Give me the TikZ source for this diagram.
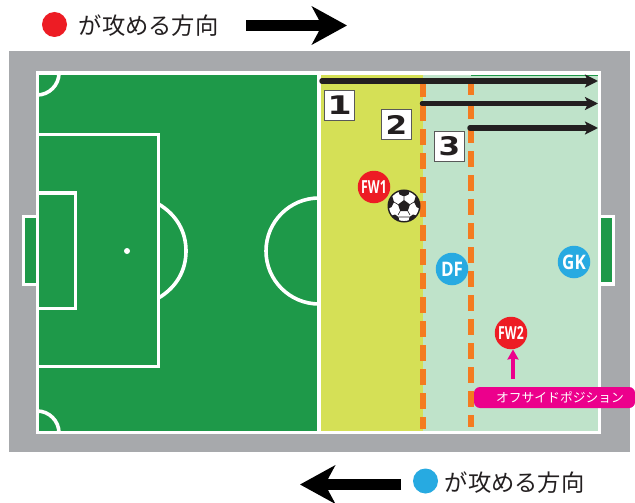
\documentclass[tikz,border=0pt]{standalone}
\usepackage{fontspec}
\newfontfamily\cjk{Noto Sans CJK JP}
\newfontfamily\cjkm{Noto Sans CJK JP Medium}
\newfontfamily\cond{Open Sans}
\newfontfamily\digit{DejaVu Sans}
\usetikzlibrary{arrows.meta}
\definecolor{pgray}{HTML}{A7A9AC}
\definecolor{pgreen}{HTML}{1E9949}
\definecolor{pyellow}{HTML}{D5E056}
\definecolor{plight}{HTML}{BFE3CA}
\definecolor{pred}{HTML}{ED1C24}
\definecolor{pblue}{HTML}{27AAE1}
\definecolor{ppink}{HTML}{EC008C}
\definecolor{porange}{HTML}{F47B20}
\definecolor{pink2}{HTML}{231F20}
\tikzset{
  pitchline/.style={draw=white,line width=3.6pt},
  offside/.style={draw=porange,line width=6pt,dash pattern=on 16pt off 8pt},
  runline/.style={draw=pink2,line width=#1,line cap=round,-{Stealth[length=13pt,width=13pt,inset=3pt]}},
  bigarrow/.style={draw=black,line width=11pt,-{Stealth[length=35pt,width=38pt,inset=10pt]}},
  playerbase/.style={circle,minimum size=32.5pt,inner sep=0pt,text=white},
  playerred/.style={playerbase,fill=pred},
  playerblue/.style={playerbase,fill=pblue},
  numbox/.style={draw=black!65,fill=white,line width=0.8pt,minimum size=30pt,inner sep=0pt,text=pink2},
  legendtext/.style={inner sep=0pt,anchor=west,text=pink2,font=\cjk\fontsize{23.3}{24}\selectfont},
  dot/.style={circle,minimum size=25pt,inner sep=0pt},
}
\begin{document}
\begin{tikzpicture}[x=1pt,y=-1pt]
\useasboundingbox (0,0) rectangle (635,503);
\fill[white] (0,0) rectangle (635,503);
% surround and pitch
\fill[pgray] (9,51) rectangle (630,452);
\fill[white] (36,71) rectangle (601,434);
\fill[pgreen] (39,75) rectangle (317,431);
\fill[pyellow] (321,75) rectangle (423,431);
\fill[plight] (423,75) rectangle (598,431);
\fill[pgreen] (471,75) rectangle (598,76);
% goals
\fill[white] (22,215) rectangle (36,286);
\fill[pgreen] (25,218) rectangle (36,283);
\fill[white] (601,215) rectangle (615,286);
\fill[pgreen] (601,218) rectangle (612,282);
% markings
\begin{scope}
\clip (39,75) rectangle (317,431);
\draw[pitchline] (38,134.5) -- (158.5,134.5) -- (158.5,366.5) -- (38,366.5);
\draw[pitchline] (38,193) -- (75.5,193) -- (75.5,308.5) -- (38,308.5);
\draw[pitchline] (158.5,204) .. controls (177,215) and (186,232) .. (186,251) .. controls (186,270) and (177,287) .. (158.5,298);
\draw[pitchline] (319,251) circle[radius=53];
\draw[pitchline] (37,73) circle[radius=22];
\draw[pitchline] (37,433) circle[radius=22];
\end{scope}
\fill[white] (127,251) circle[radius=3];
% offside lines
\coordinate (d1a) at (423,81); \coordinate (d1b) at (423,429);
\coordinate (d2a) at (471,79); \coordinate (d2b) at (471,427);
\draw[offside] (d1a) -- (d1b);
\draw[offside] (d2a) -- (d2b);
% run lines
\coordinate (r1a) at (322,81);  \coordinate (r1b) at (598,81);
\coordinate (r2a) at (422,103.5); \coordinate (r2b) at (598,103.5);
\coordinate (r3a) at (470,128); \coordinate (r3b) at (598,128);
\draw[runline=5.5pt] (r1a) -- (r1b);
\draw[runline=4.5pt] (r2a) -- (r2b);
\draw[runline=5.5pt] (r3a) -- (r3b);
% number boxes
\node[numbox] (n1) at (339.5,105) {\digit\bfseries\fontsize{27}{27}\selectfont\scalebox{1.3}[0.95]{1}};
\node[numbox] (n2) at (396.5,124.5) {\digit\bfseries\fontsize{27}{27}\selectfont\scalebox{1.15}[0.95]{2}};
\node[numbox] (n3) at (449.5,146) {\digit\bfseries\fontsize{27}{27}\selectfont\scalebox{1.15}[0.95]{3}};
% players
\node[playerred] (fw1) at (374,187) {\cond\bfseries\fontsize{18}{18}\selectfont\scalebox{0.68}[1]{FW1}};
\node[playerblue] (df) at (452,269) {\cond\bfseries\fontsize{20}{20}\selectfont\scalebox{0.85}[1]{DF}};
\node[playerblue] (gk) at (574,262) {\cond\bfseries\fontsize{20}{20}\selectfont\scalebox{0.85}[1]{GK}};
\node[playerred] (fw2) at (511,333) {\cond\bfseries\fontsize{18}{18}\selectfont\scalebox{0.68}[1]{FW2}};
% ball
\begin{scope}[shift={(404,206)}]
\fill[white,draw=pink2,line width=1.4pt] (0,0) circle[radius=15.8];
\clip (0,0) circle[radius=15.5];
\fill[pink2] (0,-6) -- (6,-1.5) -- (3.8,5) -- (-3.8,5) -- (-6,-1.5) -- cycle;
\fill[pink2] (-6,-16) -- (6,-16) -- (4.5,-11.5) -- (0,-9.5) -- (-4.5,-11.5) -- cycle;
\fill[pink2] (16,-9) -- (16,3) -- (12.5,1) -- (10,-4) -- (11.5,-9) -- cycle;
\fill[pink2] (-16,-9) -- (-16,3) -- (-12.5,1) -- (-10,-4) -- (-11.5,-9) -- cycle;
\fill[pink2] (4.5,16) -- (5.5,11) -- (9,8.5) -- (13.5,10) -- (10,16) -- cycle;
\fill[pink2] (-4.5,16) -- (-5.5,11) -- (-9,8.5) -- (-13.5,10) -- (-10,16) -- cycle;
\draw[pink2,line width=0.6pt] (0,-6) -- (0,-9.5) (6,-1.5) -- (10,-4) (-6,-1.5) -- (-10,-4) (3.8,5) -- (6,9) (-3.8,5) -- (-6,9) (5.5,11) -- (-5.5,11);
\end{scope}
% offside label
\node[fill=ppink,rounded corners=6pt,minimum width=161pt,minimum height=21pt,inner sep=0pt] (off) at (554.5,397.5) {};
\node[inner sep=0pt,text=white,font=\cjk\fontsize{12.8}{13}\selectfont] (offt) at (560,397) {オフサイドポジション};
\coordinate (pinkstart) at (513,379);
\draw[draw=ppink,line width=4pt,-{Stealth[length=10pt,width=11pt,inset=1pt]}] (pinkstart) -- (fw2.south -| pinkstart);
% legends
\node[dot,fill=pred] (lr) at (54.5,24.5) {};
\node[legendtext] (lrt) at (78.5,25.5) {が攻める方向};
\coordinate (ta) at (246,25.5); \coordinate (tb) at (347,25.5);
\draw[bigarrow] (ta) -- (tb);
\node[dot,fill=pblue] (lb) at (425.5,481) {};
\node[legendtext] (lbt) at (444.5,483) {が攻める方向};
\coordinate (ba) at (401,484.5); \coordinate (bb) at (300,484.5);
\draw[bigarrow] (ba) -- (bb);
\end{tikzpicture}
\end{document}
